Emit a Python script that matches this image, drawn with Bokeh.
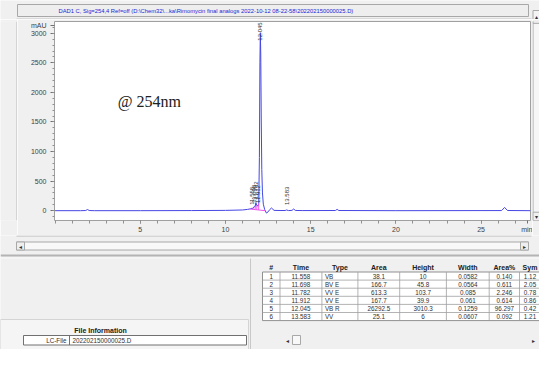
import math
from bokeh.plotting import figure
from bokeh.models import Range1d, FixedTicker
from bokeh.layouts import column, row
from bokeh.embed import file_html
from bokeh.resources import INLINE
from bokeh.core.properties import value

# ---------------- data ----------------
title_text = r"DAD1 C, Sig=254,4 Ref=off (D:\Chem32\...ka\Rimomycin final analogs 2022-10-12 08-22-58\202202150000025.D)"

# chromatogram trace (min, mAU)
trace_time = [0.0, 1.5, 1.8, 1.9, 2.0, 2.3, 5.0, 8.0, 10.0, 11.0, 11.3, 11.45,
              11.558, 11.62, 11.698, 11.74, 11.782, 11.84, 11.912, 11.95, 11.99,
              12.02, 12.045, 12.07, 12.1, 12.13, 12.17, 12.22, 12.3, 12.4, 12.5,
              12.6, 12.7, 12.85, 13.2, 13.5, 13.583, 13.7, 13.9, 14.0, 14.1, 14.5,
              16.45, 16.55, 16.65, 20.0, 26.2, 26.38, 26.55, 27.9]
trace_mau = [0, 0, 3, 20, 3, 0, 0, 2, 5, 12, 22, 30,
             42, 38, 75, 65, 135, 85, 80, 120, 900,
             2500, 3010, 2650, 1500, 700, 300, 110, 20, -40, -20,
             20, 45, 5, 3, 3, 12, 2, 5, 28, 4, 2,
             3, 22, 3, 0, 2, 55, 3, 0]

# integration baseline / drop lines (magenta)
drop_time = [11.45, 11.62, 11.74, 11.84, 11.95, 12.35]
drop_base = [28, 22, 18, 15, 12, 0]
drop_top = [30, 38, 65, 85, 120, 0]

# peak table
peak_no = [1, 2, 3, 4, 5, 6]
ret_time = [11.558, 11.698, 11.782, 11.912, 12.045, 13.583]
peak_type = ["VB", "BV E", "VV E", "VV E", "VB R", "VV"]
peak_area = [38.1, 166.7, 613.3, 167.7, 26292.5, 25.1]
peak_height = [10, 45.8, 103.7, 39.9, 3010.3, 6]
peak_width = [0.0582, 0.0564, 0.085, 0.061, 0.1259, 0.0607]
area_pct = [0.140, 0.611, 2.246, 0.614, 96.297, 0.092]
symmetry = [1.12, 2.05, 0.78, 0.86, 0.42, 1.21]
table_headers = ["#", "Time", "Type", "Area", "Height", "Width", "Area%", "Sym"]

x_ticks = [5, 10, 15, 20, 25]
y_ticks = [0, 500, 1000, 1500, 2000, 2500, 3000]
x_unit_pos, y_unit_pos = 27.7, 3130

file_label = "LC-File"
file_value = "202202150000025.D"

BG = "#f0f0f0"
FONT = value("Liberation Sans")
TRACE = "#4646e4"
LINE = "#a8a8a8"


def blank(width, height, xr, yr):
    f = figure(width=width, height=height, x_range=Range1d(*xr), y_range=Range1d(*yr),
               toolbar_location=None, output_backend="svg", min_border=0,
               x_axis_location=None, y_axis_location=None)
    f.grid.visible = False
    f.outline_line_color = None
    f.background_fill_color = BG
    f.border_fill_color = BG
    return f


# ---------------- title bar ----------------
ft = blank(539, 19, (0, 539), (19, 0))
ft.quad(left=[17], right=[528], top=[4], bottom=[16], fill_color="#eeeeee",
        line_color=LINE)
ft.text(x=[58], y=[10.3], text=[title_text], text_font=FONT, text_font_size="5.8px",
        text_color="#2424d8", text_baseline="middle")
ft.segment(x0=[16], y0=[18.5], x1=[531], y1=[18.5], line_color="#c4c4c4")
ft.quad(left=[532.5], right=[546], top=[10], bottom=[20], fill_color="#f4f4f4",
        line_color=LINE)
ft.text(x=[536], y=[15.5], text=["▴"], text_align="center", text_baseline="middle",
        text_font=value("DejaVu Sans"), text_font_size="6px", text_color="#333333")

# ---------------- left strip (panel edge) ----------------
fl = blank(17, 216, (0, 17), (216, 0))
fl.segment(x0=[16.5], y0=[0], x1=[16.5], y1=[216], line_color="#b8b8b8")

# ---------------- chromatogram ----------------
p = figure(width=515, height=216, x_range=Range1d(-0.035, 27.9),
           y_range=Range1d(-166, 3199), toolbar_location=None, output_backend="svg",
           min_border_left=37, min_border_right=2, min_border_top=2,
           min_border_bottom=14)
p.background_fill_color = "white"
p.border_fill_color = BG
p.outline_line_color = "#a0a0a0"
p.grid.visible = False

p.xaxis.ticker = FixedTicker(ticks=x_ticks + [x_unit_pos], minor_ticks=list(range(0, 28)))
p.xaxis.major_label_overrides = {x_unit_pos: "min"}
p.yaxis.ticker = FixedTicker(ticks=y_ticks + [y_unit_pos],
                             minor_ticks=list(range(-100, 3200, 100)))
p.yaxis.major_label_overrides = {y_unit_pos: "mAU"}
for ax in (p.xaxis[0], p.yaxis[0]):
    ax.axis_line_color = None
    ax.major_tick_in = 0
    ax.minor_tick_in = 0
    ax.major_tick_line_color = "#707070"
    ax.minor_tick_line_color = "#909090"
    ax.major_label_text_font = "Liberation Sans"
    ax.major_label_text_font_size = "7px"
    ax.major_label_text_color = "#404040"
p.xaxis.major_tick_out = 3
p.xaxis.minor_tick_out = 3
p.xaxis.major_label_standoff = 2
p.yaxis.major_tick_out = 4
p.yaxis.minor_tick_out = 2
p.yaxis.major_label_standoff = 4

p.line(trace_time, trace_mau, line_color=TRACE, line_width=1)
p.segment(x0=drop_time[1:5], y0=drop_base[1:5], x1=drop_time[1:5], y1=drop_top[1:5],
          line_color="#ee50ee", line_width=1)
p.line(drop_time, drop_base, line_color="#ee50ee", line_width=1)

small_idx = [0, 1, 2, 3, 5]
p.text(x=[ret_time[i] for i in small_idx],
       y=[peak_height[i] + 90 for i in small_idx],
       text=[f"{ret_time[i]:.3f}" for i in small_idx],
       angle=math.pi / 2, text_align="left", text_baseline="middle",
       text_font=FONT, text_font_size="6px", text_color="#303030")
p.text(x=[ret_time[4]], y=[3185], text=[f"{ret_time[4]:.3f}"],
       angle=math.pi / 2, text_align="right", text_baseline="middle",
       text_font=FONT, text_font_size="6px", text_color="#303030")
p.text(x=[3.68], y=[1844], text=["@ 254nm"], text_align="left",
       text_baseline="middle", text_font=value("Liberation Serif"),
       text_font_size="16px", text_color="#202020")

# ---------------- vertical scrollbar ----------------
fv = blank(7, 216, (0, 7), (216, 0))
fv.quad(left=[0.5], right=[14], top=[-1], bottom=[216], fill_color="#f6f6f6",
        line_color=LINE)
fv.quad(left=[0.5], right=[14], top=[-1], bottom=[2], fill_color="#f0f0f0",
        line_color=LINE)
fv.quad(left=[0.5], right=[14], top=[207], bottom=[216], fill_color="#f0f0f0",
        line_color=LINE)
fv.text(x=[4], y=[211.5], text=["▾"], text_align="center", text_baseline="middle",
        text_font=value("DejaVu Sans"), text_font_size="6px", text_color="#333333")

# ---------------- lower panel ----------------
fb = blank(539, 114, (0, 539), (114, 0))

# chart panel bottom edge and horizontal scrollbar
fb.segment(x0=[16], y0=[0.5], x1=[531], y1=[0.5], line_color="#b8b8b8")
fb.quad(left=[16], right=[528], top=[6.5], bottom=[14.5], fill_color="#f8f8f8",
        line_color=LINE)
fb.quad(left=[16, 520], right=[24, 528], top=[6.5, 6.5], bottom=[14.5, 14.5],
        fill_color="#eeeeee", line_color=LINE)
fb.text(x=[20, 524], y=[10.5, 10.5], text=["◂", "▸"], text_align="center",
        text_baseline="middle", text_font=value("DejaVu Sans"),
        text_font_size="6px", text_color="#333333")

# separator
fb.segment(x0=[0], y0=[20], x1=[539], y1=[20], line_color="#b4b4b4", line_width=2)
fb.segment(x0=[0], y0=[22.5], x1=[539], y1=[22.5], line_color="#fafafa", line_width=1)

# right pane divider
fb.segment(x0=[250], y0=[23], x1=[250], y1=[114], line_color="#c8c8c8")

# table
col_edges = [262, 279.5, 321.4, 357.4, 399.2, 445.9, 488.7, 519, 546]
col_center = [(col_edges[i] + col_edges[i + 1]) / 2 for i in range(8)]
col_center[7] = 529.5
row_top = 36.5
row_h = 8.1
n = len(peak_no)
fb.quad(left=[col_edges[0]], right=[546], top=[row_top], bottom=[row_top + n * row_h],
        fill_color="white", line_color="#909090")
fb.segment(x0=[col_edges[0]] * (n - 1), x1=[546] * (n - 1),
           y0=[row_top + (i + 1) * row_h for i in range(n - 1)],
           y1=[row_top + (i + 1) * row_h for i in range(n - 1)],
           line_color="#a0a0a0", line_width=0.8)
fb.segment(x0=col_edges[1:8], x1=col_edges[1:8], y0=[row_top] * 7,
           y1=[row_top + n * row_h] * 7, line_color="#a0a0a0", line_width=0.8)
fb.text(x=col_center, y=[31.5] * 8, text=table_headers, text_align="center",
        text_baseline="middle", text_font=FONT, text_font_style="bold",
        text_font_size="7px", text_color="#202020")

row_y = [row_top + (i + 0.5) * row_h for i in range(n)]
columns = [
    [str(v) for v in peak_no],
    [f"{v:.3f}" for v in ret_time],
    None,
    [f"{v:g}" for v in peak_area],
    [f"{v:g}" for v in peak_height],
    [f"{v:g}" for v in peak_width],
    [f"{v:.3f}" for v in area_pct],
    [f"{v:.2f}" for v in symmetry],
]
for ci, texts in enumerate(columns):
    if texts is None:
        continue
    fb.text(x=[col_center[ci]] * n, y=row_y, text=texts, text_align="center",
            text_baseline="middle", text_font=FONT, text_font_size="6.3px",
            text_color="#303030")
fb.text(x=[col_edges[2] + 3] * n, y=row_y, text=peak_type, text_align="left",
        text_baseline="middle", text_font=FONT, text_font_size="6.3px",
        text_color="#303030")

# table scroll buttons
fb.quad(left=[292], right=[300], top=[100], bottom=[109], fill_color="#f8f8f8",
        line_color=LINE)
fb.text(x=[287, 533], y=[104.5, 104.5], text=["◂", "▸"], text_align="center",
        text_baseline="middle", text_font=value("DejaVu Sans"),
        text_font_size="6px", text_color="#333333")

# file information panel
fb.quad(left=[0], right=[248], top=[84], bottom=[120], fill_color="#f5f5f5",
        line_color="#d4d4d4")
fb.text(x=[100], y=[94.8], text=["File Information"], text_align="center",
        text_baseline="middle", text_font=FONT, text_font_style="bold",
        text_font_size="7px", text_color="#202020")
fb.quad(left=[23], right=[246], top=[100], bottom=[109.5], fill_color="white",
        line_color="#707070")
fb.segment(x0=[69], y0=[100], x1=[69], y1=[109.5], line_color="#707070")
fb.text(x=[66], y=[105], text=[file_label], text_align="right", text_baseline="middle",
        text_font=FONT, text_font_size="6.3px", text_color="#303030")
fb.text(x=[72], y=[105], text=[file_value], text_align="left", text_baseline="middle",
        text_font=FONT, text_font_size="6.3px", text_color="#303030")

layout = column(ft, row(fl, p, fv, spacing=0), fb, spacing=0)
open("out.html", "w").write(file_html(layout, INLINE))
